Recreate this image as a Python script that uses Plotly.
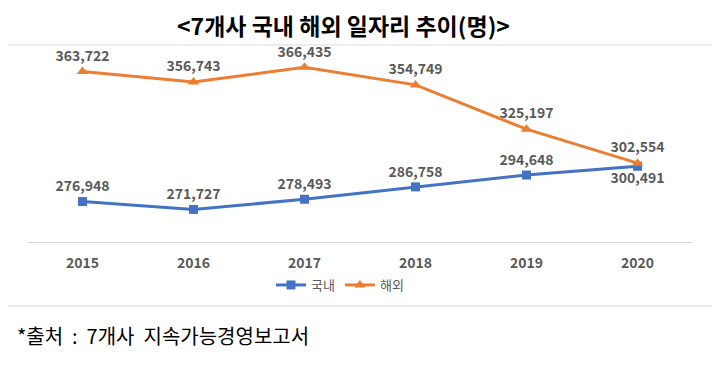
import plotly.graph_objects as go

years = ["2015", "2016", "2017", "2018", "2019", "2020"]
domestic = [276948, 271727, 278493, 286758, 294648, 300491]
overseas = [363722, 356743, 366435, 354749, 325197, 302554]
domestic_pos = ["top center"] * 5 + ["bottom center"]
overseas_pos = ["top center"] * 6

KFONT = "Noto Sans CJK KR"
LABEL_COLOR = "#595959"

fig = go.Figure()
fig.add_trace(go.Scatter(
    x=years, y=domestic, name="국내", mode="lines+markers+text",
    line=dict(color="#4472C4", width=3),
    marker=dict(symbol="square", size=9, color="#4472C4"),
    text=[f"{v:,}" for v in domestic], textposition=domestic_pos,
    textfont=dict(family=KFONT, size=14, color=LABEL_COLOR, weight="bold"),
    cliponaxis=False,
))
fig.add_trace(go.Scatter(
    x=years, y=overseas, name="해외", mode="lines+markers+text",
    line=dict(color="#ED7D31", width=3),
    marker=dict(symbol="triangle-up", size=10, color="#ED7D31"),
    text=[f"{v:,}" for v in overseas], textposition=overseas_pos,
    textfont=dict(family=KFONT, size=14, color=LABEL_COLOR, weight="bold"),
    cliponaxis=False,
))

# figure is 712x368 so that with the page's default 8px body margin it fills 720x376
fig.update_layout(
    width=712, height=368,
    margin=dict(l=19, r=27, t=39, b=134),
    paper_bgcolor="white", plot_bgcolor="white",
    xaxis=dict(range=[-0.5, 5.5], showgrid=False, showline=True, linecolor="#D9D9D9", linewidth=1,
               ticks="", tickfont=dict(family=KFONT, size=14, color=LABEL_COLOR, weight="bold"),
               ticklabelstandoff=8, fixedrange=True),
    yaxis=dict(range=[250000, 380000], showgrid=False, showticklabels=False,
               zeroline=False, showline=False, fixedrange=True),
    legend=dict(orientation="h", x=(340 - 27) / 666, xanchor="center", y=(242 - 285) / 195,
                yanchor="middle", font=dict(family=KFONT, size=13, color=LABEL_COLOR),
                tracegroupgap=0),
    showlegend=True,
)

fig.add_annotation(text="<b>&lt;7개사 국내 해외 일자리 추이(명)&gt;</b>", xref="paper", yref="paper",
                   x=(343 - 27) / 666, y=(242 - 25) / 195, xanchor="center", yanchor="middle",
                   showarrow=False, font=dict(family=KFONT, size=23, color="black"))

fig.add_shape(type="rect", xref="paper", yref="paper",
              x0=(7 - 27) / 666, x1=(713 - 27) / 666,
              y0=(242 - 306) / 195, y1=(242 - 45) / 195,
              line=dict(color="#D9D9D9", width=1), fillcolor="rgba(0,0,0,0)", layer="below")

NB = "\u00a0"
fig.add_annotation(text=f"*출처{NB}{NB}:{NB}{NB}7개사{NB}{NB}지속가능경영보고서", xref="paper", yref="paper",
                   x=(15 - 27) / 666, y=(242 - 335) / 195, xanchor="left", yanchor="middle",
                   showarrow=False, font=dict(family=KFONT, size=20, color="black"))

fig.write_html("out.html")
